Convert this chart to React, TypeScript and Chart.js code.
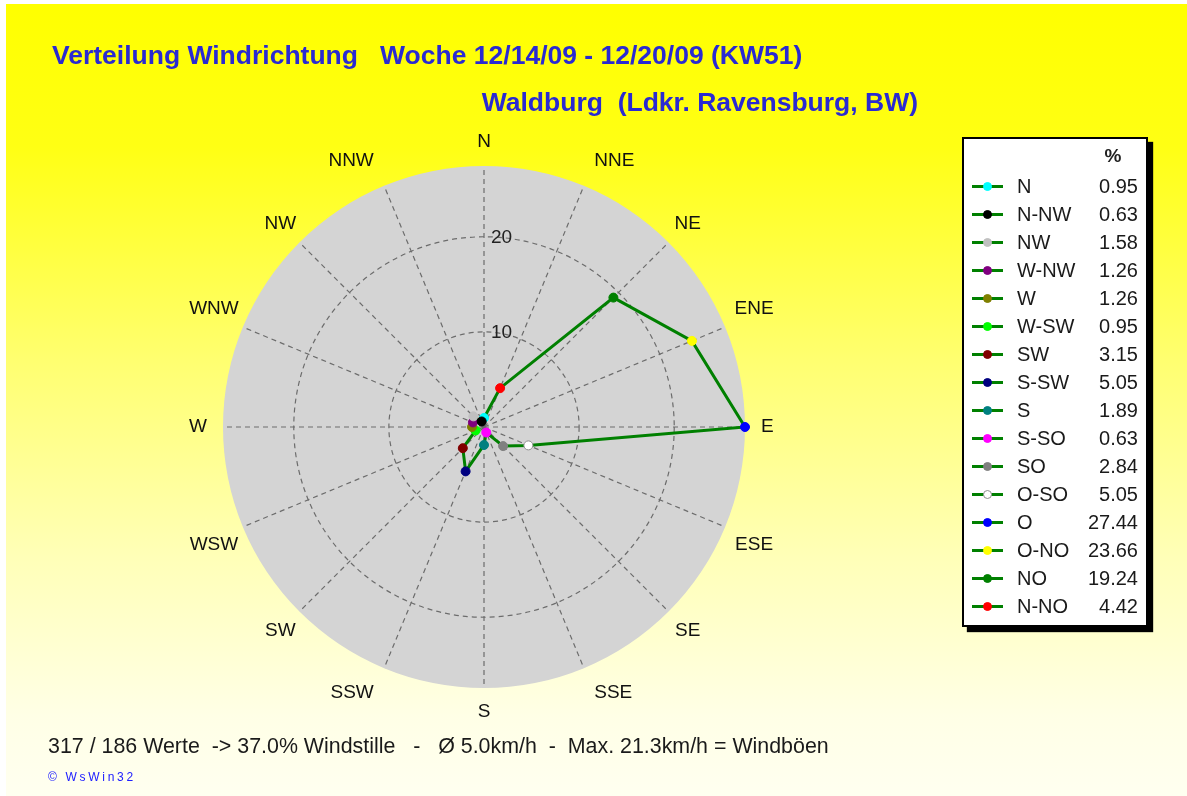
import React, { useEffect, useRef } from 'react';
import { Chart, registerables } from 'chart.js';

Chart.register(...registerables);

// ---- data ----
const directions = ['N', 'NNE', 'NE', 'ENE', 'E', 'ESE', 'SE', 'SSE', 'S', 'SSW', 'SW', 'WSW', 'W', 'WNW', 'NW', 'NNW'];
const legendNames = ['N', 'N-NO', 'NO', 'O-NO', 'O', 'O-SO', 'SO', 'S-SO', 'S', 'S-SW', 'SW', 'W-SW', 'W', 'W-NW', 'NW', 'N-NW'];
const percent = [0.95, 4.42, 19.24, 23.66, 27.44, 5.05, 2.84, 0.63, 1.89, 5.05, 3.15, 0.95, 1.26, 1.26, 1.58, 0.63];
const pointColors = ['#00FFFF', '#FF0000', '#008000', '#FFFF00', '#0000FF', '#FFFFFF', '#808080', '#FF00FF', '#008080', '#000080', '#800000', '#00FF00', '#808000', '#800080', '#C0C0C0', '#000000'];
const legendOrder = [0, 15, 14, 13, 12, 11, 10, 9, 8, 7, 6, 5, 4, 3, 2, 1];
const tickValues = [10, 20];

const titleLine1 = 'Verteilung Windrichtung   Woche 12/14/09 - 12/20/09 (KW51)';
const titleLine2 = 'Waldburg  (Ldkr. Ravensburg, BW)';
const footerText = '317 / 186 Werte  -> 37.0% Windstille   -   \u00D8 5.0km/h  -  Max. 21.3km/h = Windb\u00F6en';
const creditText = '\u00A9 WsWin32';

const FONT = '"Liberation Sans", Arial, Helvetica, sans-serif';
const LINE_GREEN = '#008000';
const TITLE_BLUE = '#2A2AD2';
const GRID_GRAY = '#6C6C6C';

const windLabelsPlugin = {
  id: 'windLabels',
  afterDraw(chart: any) {
    const scale = chart.scales.r;
    const ctx = chart.ctx;
    const R = scale.drawingArea;
    ctx.save();
    ctx.font = `19px ${FONT}`;
    ctx.fillStyle = '#111111';
    ctx.textBaseline = 'middle';
    directions.forEach((lab, i) => {
      const a = scale.getIndexAngle(i);
      const s = Math.sin(a);
      const c = Math.cos(a);
      const as = Math.abs(s);
      let d = R + 27;
      let align: CanvasTextAlign = 'center';
      let dx = 0;
      let dy = 0;
      if (as < 0.1) {
        d = R + 24;
      } else if (Math.abs(c) < 0.1) {
        d = R + 16;
        align = s > 0 ? 'left' : 'right';
      } else if (as < 0.5) {
        align = s > 0 ? 'left' : 'right';
      } else if (as > 0.85) {
        dy = c > 0 ? -8 : 8;
        dx = s > 0 ? 4 : -4;
      }
      const p = scale.getPointPosition(i, d);
      ctx.textAlign = align;
      ctx.fillText(lab, p.x + dx, p.y + dy);
    });
    ctx.textAlign = 'left';
    ctx.fillStyle = '#222222';
    tickValues.forEach((v) => {
      const dist = scale.getDistanceFromCenterForValue(v);
      ctx.fillText(String(v), scale.xCenter + 7, scale.yCenter - dist + 1);
    });
    ctx.restore();
  },
};

export default function App() {
  const canvasRef = useRef<HTMLCanvasElement | null>(null);

  useEffect(() => {
    if (!canvasRef.current) return;
    const chart = new Chart(canvasRef.current, {
      type: 'radar',
      data: {
        labels: directions,
        datasets: [
          {
            data: percent,
            borderColor: LINE_GREEN,
            borderWidth: 3,
            fill: false,
            tension: 0,
            pointBackgroundColor: pointColors,
            pointBorderColor: pointColors.map((c) => (c === '#FFFFFF' ? '#909090' : c)),
            pointBorderWidth: 1,
            pointRadius: 4.5,
            pointHoverRadius: 4.5,
          },
        ],
      },
      options: {
        responsive: false,
        animation: false,
        events: [],
        layout: { padding: { left: 223, top: 166, right: 442, bottom: 108 } },
        plugins: {
          legend: { display: false },
          title: { display: false },
          tooltip: { enabled: false },
        },
        scales: {
          r: {
            min: 0,
            max: Math.max(...percent),
            backgroundColor: '#D4D4D4',
            ticks: { display: false, stepSize: 10 },
            pointLabels: { display: false },
            grid: {
              circular: true,
              lineWidth: 1.2,
              color: (ctx: any) => (ctx.tick && tickValues.includes(ctx.tick.value) ? GRID_GRAY : 'rgba(0,0,0,0)'),
            },
            border: { dash: [5, 4] },
            angleLines: { color: GRID_GRAY, lineWidth: 1.2, borderDash: [5, 4] },
          },
        },
      } as any,
      plugins: [windLabelsPlugin],
    });
    return () => chart.destroy();
  }, []);

  return (
    <div style={{ position: 'fixed', left: 0, top: 0, width: 1187, height: 796, background: '#FFFFFF', overflow: 'hidden', fontFamily: FONT }}>
      <div
        style={{
          position: 'absolute', left: 6, top: 4, right: 0, bottom: 0,
          background: 'linear-gradient(to bottom, #FFFF00 0%, #FFFF14 18%, #FFFF70 45%, #FFFFB8 70%, #FFFFE6 90%, #FFFFF0 100%)',
        }}
      />
      <canvas ref={canvasRef} width={1187} height={796} style={{ position: 'absolute', left: 0, top: 0 }} />
      <div style={{ position: 'absolute', left: 52, top: 40, fontSize: 26.5, fontWeight: 'bold', color: TITLE_BLUE, whiteSpace: 'pre', lineHeight: '30px' }}>
        {titleLine1}
      </div>
      <div style={{ position: 'absolute', right: 269, top: 87, fontSize: 26.5, fontWeight: 'bold', color: TITLE_BLUE, whiteSpace: 'pre', lineHeight: '30px' }}>
        {titleLine2}
      </div>
      <div style={{ position: 'absolute', left: 48, top: 734, fontSize: 21.4, color: '#1A1A1A', whiteSpace: 'pre', lineHeight: '24px' }}>
        {footerText}
      </div>
      <div style={{ position: 'absolute', left: 48, top: 769, fontSize: 12, color: '#2020FF', whiteSpace: 'pre', letterSpacing: 2.7, lineHeight: '16px' }}>
        {creditText}
      </div>
      <div
        style={{
          position: 'absolute', left: 962, top: 137, width: 186, height: 490, boxSizing: 'border-box',
          border: '2px solid #000', background: '#FFFFFF', boxShadow: '5px 5px 1px #000',
        }}
      >
        <div style={{ position: 'absolute', left: 137, width: 24, top: 5, textAlign: 'center', fontSize: 19, fontWeight: 'bold', color: '#222', lineHeight: '24px' }}>%</div>
        {legendOrder.map((idx, row) => (
          <div key={legendNames[idx]} style={{ position: 'absolute', left: 0, right: 0, top: 33 + row * 28, height: 28 }}>
            <div style={{ position: 'absolute', left: 8, width: 31, top: 13, height: 3, background: LINE_GREEN }} />
            <div
              style={{
                position: 'absolute', left: 19, top: 10, width: 9, height: 9, borderRadius: '50%', boxSizing: 'border-box',
                background: pointColors[idx], border: `1px solid ${pointColors[idx] === '#FFFFFF' ? '#909090' : pointColors[idx]}`,
              }}
            />
            <div style={{ position: 'absolute', left: 53, top: 2, fontSize: 20, color: '#1A1A1A', lineHeight: '24px' }}>{legendNames[idx]}</div>
            <div style={{ position: 'absolute', right: 8, top: 2, fontSize: 20, color: '#1A1A1A', lineHeight: '24px' }}>{percent[idx].toFixed(2)}</div>
          </div>
        ))}
      </div>
    </div>
  );
}
